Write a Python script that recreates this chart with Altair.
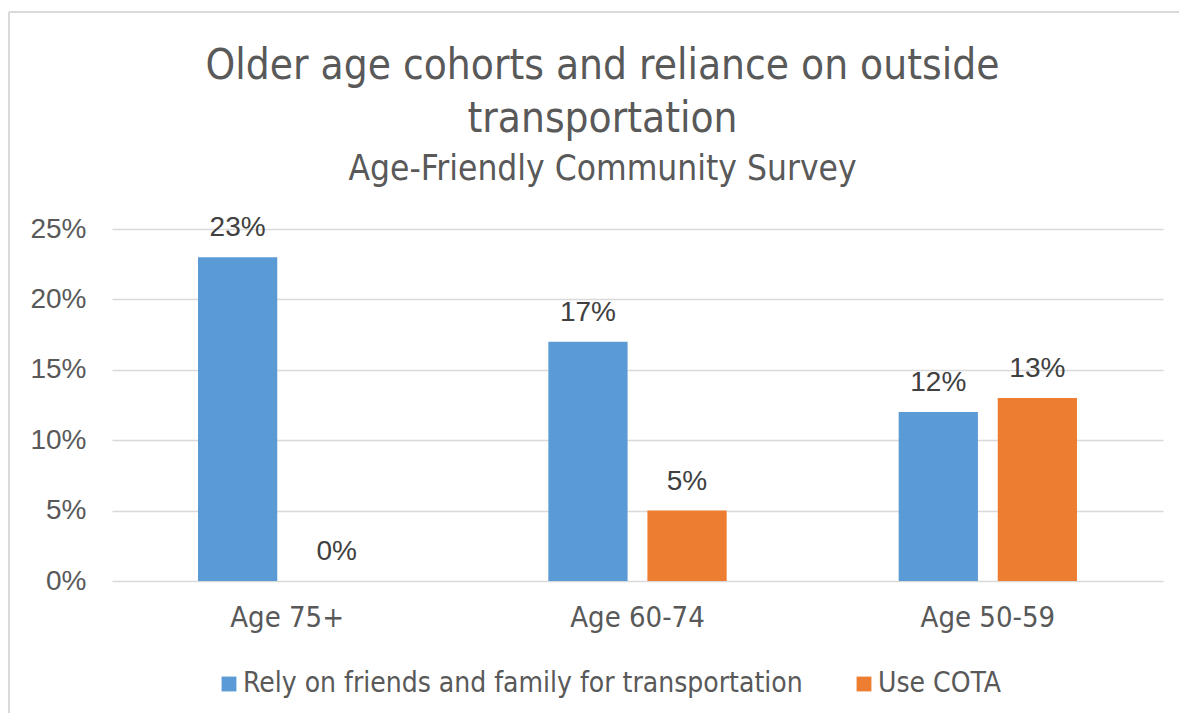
import altair as alt
import pandas as pd

categories = ["Age 75+", "Age 60-74", "Age 50-59"]
series = ["Rely on friends and family for transportation", "Use COTA"]
rely = [0.23, 0.17, 0.12]
cota = [0.00, 0.05, 0.13]
colors = ["#5B9BD5", "#ED7D31"]

rows = []
for c, a, b in zip(categories, rely, cota):
    rows.append({"cat": c, "series": series[0], "value": a})
    rows.append({"cat": c, "series": series[1], "value": b})
df = pd.DataFrame(rows)

TXT = "#595959"
NARROW = "Liberation Sans Narrow, DejaVu Sans Condensed, sans-serif"

x = alt.X("cat:N", sort=categories, title=None,
          scale=alt.Scale(paddingInner=0.491, paddingOuter=0.2455),
          axis=alt.Axis(labelAngle=0, domain=False, ticks=False, labelPadding=22,
                        labelFont=NARROW, labelFontSize=29, labelColor=TXT))
xo = alt.XOffset("series:N", sort=series, scale=alt.Scale(paddingInner=0.2, paddingOuter=0))
y = alt.Y("value:Q", title=None,
          scale=alt.Scale(domain=[0, 0.25], nice=False),
          axis=alt.Axis(format=".0%", values=[0, 0.05, 0.10, 0.15, 0.20, 0.25],
                        domain=False, ticks=False, labelPadding=26,
                        labelFont="Liberation Sans, Arial, sans-serif", labelFontSize=28,
                        labelColor=TXT, gridColor="#D9D9D9", gridWidth=1.5))

bars = alt.Chart(df).mark_bar().encode(
    x=x, xOffset=xo, y=y,
    color=alt.Color("series:N", sort=series,
                    scale=alt.Scale(domain=series, range=colors),
                    legend=alt.Legend(title=None, orient="none", direction="horizontal",
                                      legendX=103, legendY=441,
                                      symbolType="square", symbolSize=220,
                                      symbolStrokeWidth=0, columnPadding=47,
                                      labelFont=NARROW, labelFontSize=28,
                                      labelColor=TXT, labelOffset=0, labelLimit=900)),
)

labels = alt.Chart(df).mark_text(
    dy=-21, baseline="alphabetic", fontSize=28,
    font="Liberation Sans, Arial, sans-serif", color="#404040"
).encode(x=x, xOffset=xo, y=y, text=alt.Text("value:Q", format=".0%"))

frame_l = alt.Chart(df).mark_rule(color="#D9D9D9", strokeWidth=2).encode(
    x=alt.value(-103), y=alt.value(-217), y2=alt.value(900))
frame_t = alt.Chart(df).mark_rule(color="#D9D9D9", strokeWidth=2).encode(
    x=alt.value(-103), x2=alt.value(1200), y=alt.value(-217))

chart = alt.layer(frame_l, frame_t, bars, labels).properties(
    width=1051, height=352,
    background="white",
    padding={"left": 104, "top": 221, "right": 16, "bottom": 132},
    autosize=alt.AutoSizeParams(type="none"),
    title=alt.TitleParams(
        text=["Older age cohorts and reliance on outside", "transportation"],
        subtitle="Age-Friendly Community Survey",
        font=NARROW, fontSize=42, fontWeight="normal", color=TXT, lineHeight=53,
        subtitleFont=NARROW, subtitleFontSize=35, subtitleColor=TXT,
        subtitlePadding=11, anchor="middle", dx=-35, offset=-177, frame="group",
    ),
).configure_view(strokeWidth=0, stroke="transparent")

chart.save("out.html", embed_options={"renderer": "svg", "actions": False})
